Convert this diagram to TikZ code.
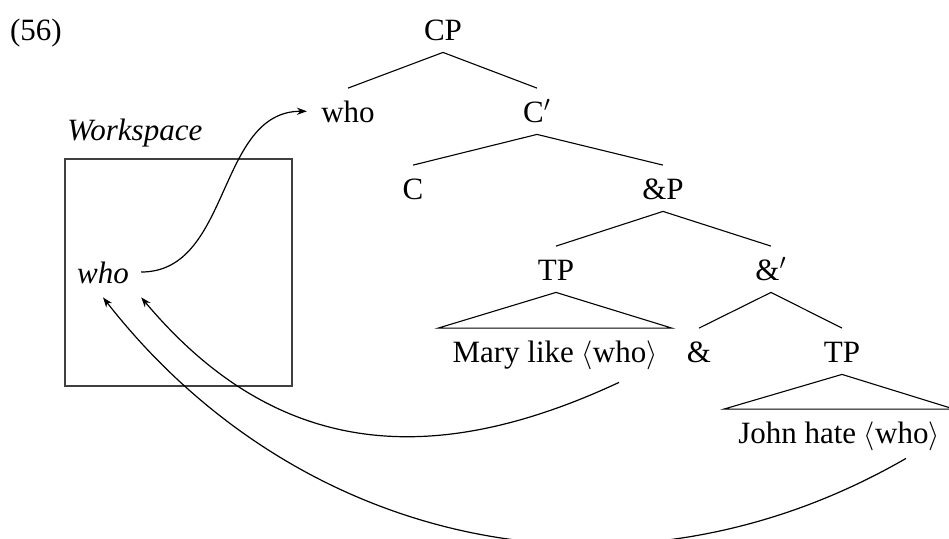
\documentclass[tikz,border=0pt]{standalone}
\usepackage{fontspec}
\setmainfont{Liberation Serif}
\usetikzlibrary{arrows.meta}

\begin{document}
\begin{tikzpicture}[x=0.5pt, y=0.5pt,
        font=\fontsize{15.5}{18}\selectfont,
        tnode/.style={anchor=base, inner xsep=7pt, inner ysep=6pt, text height=10.75pt, text depth=0pt},
        branch/.style={line width=0.55pt},
        move/.style={line width=0.6pt, -{Stealth[length=5pt, width=3.6pt]}}]
            \useasboundingbox (0,0) rectangle (949,-538);

            % Nodes
            \node[anchor=base, inner sep=0pt] (ex) at (36,-40) {(56)};
            \node[tnode] (cp) at (443,-40) {CP};
            \node[tnode] (who) at (348,-122) {who};
            \node[tnode] (cbar) at (537,-122) {C$'$};
            \node[tnode] (c) at (413,-199) {C};
            \node[tnode] (andp) at (663,-199) {\&P};
            \node[tnode] (tp) at (556,-280) {TP};
            \node[tnode] (andbar) at (771,-280) {\&$'$};
            \node[tnode] (mary) at (555,-362) {Mary like $\langle$who$\rangle$};
            \node[tnode] (and) at (699,-362) {\&};
            \node[tnode] (tpb) at (842,-362) {TP};
            \node[tnode] (john) at (839,-443) {John hate $\langle$who$\rangle$};

            \node[anchor=base west, inner sep=0pt] (wslabel) at (67,-140) {\textit{Workspace}};
            \node[draw=black!75, line width=0.6pt, minimum width=113.5pt, minimum height=113.5pt] (ws) at (178.5,-272.5) {};
            \node[anchor=base, inner xsep=6pt, inner ysep=7pt, text height=11pt, text depth=0pt] (wsw) at (103,-283) {\textit{who}};

            % Branches
            \draw[branch] (cp.south) -- (who.north);
            \draw[branch] (cp.south) -- (cbar.north);
            \draw[branch] (cbar.south) -- (c.north);
            \draw[branch] (cbar.south) -- (andp.north);
            \draw[branch] (andp.south) -- (tp.north);
            \draw[branch] (andp.south) -- (andbar.north);
            \draw[branch] (andbar.south) -- (and.north);
            \draw[branch] (andbar.south) -- (tpb.north);
            \draw[branch] (tp.south) -- (mary.north west) -- (mary.north east) -- cycle;
            \draw[branch] (tpb.south) -- (john.north west) -- (john.north east) -- cycle;

            % Arrows
            \draw[move] (wsw.east) to[out=0, in=180] (who.west);
            \draw[move] ([xshift=32pt, yshift=-4pt]mary.south) to[out=-155, in=-50, looseness=1.1] (wsw.south east);
            \draw[move] ([xshift=33.5pt, yshift=-1.5pt]john.south) to[out=-150, in=-52] (wsw.south);
        \end{tikzpicture}
\end{document}
